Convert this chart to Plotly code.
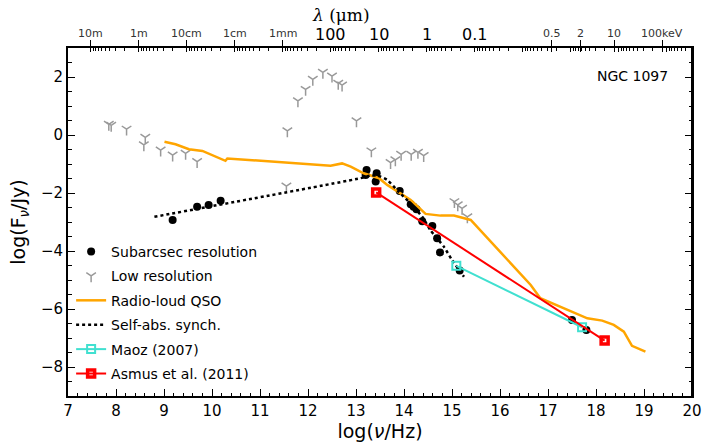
import numpy as np
import plotly.graph_objects as go

# --- Subarcsec-resolution photometry (log nu [Hz], log F_nu [Jy]) ---
sub_x = [9.18, 9.69, 9.93, 10.18, 13.22, 13.20, 13.43, 13.41, 13.91, 14.14,
         14.20, 14.26, 14.38, 14.59, 14.69, 14.75, 15.16, 17.50, 17.80]
sub_y = [-2.93, -2.47, -2.41, -2.27, -1.21, -1.38, -1.32, -1.60, -1.93, -2.39,
         -2.47, -2.56, -2.97, -3.14, -3.56, -4.05, -4.67, -6.38, -6.72]

# --- Low-resolution photometry ---
low_x = [7.85, 7.90, 8.22, 8.61, 8.58, 8.93, 9.18, 9.45, 9.69, 11.57, 11.55,
         11.79, 11.95, 12.10, 12.31, 12.50, 12.63, 12.71, 13.01, 13.32, 13.72,
         13.82, 13.94, 14.15, 14.29, 14.41, 15.05, 15.12, 15.21, 15.32]
low_y = [0.37, 0.33, 0.20, -0.08, -0.34, -0.52, -0.69, -0.63, -0.92, 0.14, -1.76,
         1.18, 1.57, 1.92, 2.16, 2.03, 1.78, 1.72, 0.49, -0.55, -0.95,
         -0.86, -0.67, -0.67, -0.60, -0.71, -2.30, -2.41, -2.53, -2.82]

# --- Radio-loud QSO template ---
qso_x = [9.01, 9.24, 9.52, 9.80, 10.28, 10.32, 12.47, 12.71, 12.89, 13.16,
         13.48, 13.65, 14.14, 14.45, 14.76, 15.04, 15.39, 15.98, 16.64, 16.84,
         17.40, 17.82, 18.13, 18.37, 18.58, 18.75, 19.03]
qso_y = [-0.23, -0.32, -0.49, -0.55, -0.89, -0.81, -1.06, -0.98, -1.09, -1.32,
         -1.49, -1.72, -2.24, -2.72, -2.78, -2.78, -2.93, -3.97, -5.17, -5.63,
         -6.03, -6.32, -6.40, -6.55, -6.78, -7.27, -7.47]

# --- Self-absorbed synchrotron model ---
syn_x = [8.80, 13.09, 13.30, 13.45, 13.65, 13.89, 14.10, 14.38, 14.55, 14.83,
         15.00, 15.25]
syn_y = [-2.82, -1.49, -1.40, -1.40, -1.55, -1.96, -2.30, -2.82, -3.28, -3.85,
         -4.31, -4.89]

# --- Literature slopes ---
maoz_x = [15.09, 17.71]
maoz_y = [-4.51, -6.63]
asmus_x = [13.42, 18.18]
asmus_y = [-1.98, -7.09]

# --- Top axis: wavelength and energy scales ---
C_LIGHT = 2.998e8          # m/s
H_KEV = 4.1357e-18         # keV s
radio_lam_m = [10, 1, 0.1, 0.01, 1e-3]
radio_labels = ["10m", "1m", "10cm", "1cm", "1mm"]
micron_lam = [100, 10, 1, 0.1]
micron_labels = ["100", "10", "1", "0.1"]
kev_vals = [0.5, 2, 10, 100]
kev_labels = ["0.5", "2", "10", "100keV"]
decade_lam_m = [10.0 ** (-k) for k in range(-1, 13)]

radio_pos = [np.log10(C_LIGHT / l) for l in radio_lam_m]
micron_pos = [np.log10(C_LIGHT / (l * 1e-6)) for l in micron_lam]
kev_pos = [np.log10(e / H_KEV) for e in kev_vals]
decade_pos = [np.log10(C_LIGHT / l) for l in decade_lam_m]
minor_pos = [p + np.log10(10.0 / k) for p in decade_pos for k in range(2, 10)]
minor_pos = [p for p in minor_pos if 7 < p < 20]
long_pos = radio_pos + kev_pos

FONT = "DejaVu Sans"
fig = go.Figure()

fig.add_trace(go.Scatter(x=sub_x, y=sub_y, mode="markers", name="Subarcsec resolution",
                         marker=dict(color="black", size=8), legendgroup="a"))
fig.add_trace(go.Scatter(x=low_x, y=low_y, mode="markers", name="Low resolution",
                         marker=dict(symbol="y-down", size=8, color="#999999",
                                     line=dict(color="#999999", width=1.5)),
                         legendgroup="b"))
fig.add_trace(go.Scatter(x=qso_x, y=qso_y, mode="lines", name="Radio-loud QSO",
                         line=dict(color="#FFA500", width=2.5), legendgroup="c"))
fig.add_trace(go.Scatter(x=syn_x, y=syn_y, mode="lines", name="Self-abs. synch.",
                         line=dict(color="black", width=2.5, dash="dot", shape="spline",
                                   smoothing=0.6),
                         legendgroup="d"))
fig.add_trace(go.Scatter(x=maoz_x, y=maoz_y, mode="lines+markers", name="Maoz (2007)",
                         line=dict(color="#40E0D0", width=2),
                         marker=dict(symbol="square-open", size=8, color="#40E0D0",
                                     line=dict(width=2)),
                         legendgroup="e"))
fig.add_trace(go.Scatter(x=asmus_x, y=asmus_y, mode="lines+markers", name="Asmus et al. (2011)",
                         line=dict(color="#FF0000", width=2),
                         marker=dict(symbol="square-open", size=7, color="#FF0000",
                                     line=dict(width=3.5)),
                         legendgroup="f"))

# invisible traces to activate the extra top axes
for ax in ("x2", "x3", "x4"):
    fig.add_trace(go.Scatter(x=[7], y=[0], xaxis=ax, mode="markers",
                             marker=dict(opacity=0), showlegend=False, hoverinfo="skip"))

axis_common = dict(range=[7, 20], showgrid=False, zeroline=False, automargin=False)

fig.update_layout(
    width=705, height=445,
    margin=dict(l=68, r=13, t=48, b=49),
    paper_bgcolor="white", plot_bgcolor="white",
    font=dict(family=FONT, color="black", size=14),
    showlegend=True,
    legend=dict(x=0.005, y=0.46, xanchor="left", yanchor="top",
                bgcolor="rgba(0,0,0,0)", font=dict(size=14, family=FONT),
                tracegroupgap=3.2, itemwidth=30),
    xaxis=dict(**axis_common, dtick=1, tick0=7, ticks="inside", ticklen=7, tickwidth=1,
               tickcolor="black", showline=True, linecolor="black", linewidth=2,
               mirror=False, tickfont=dict(size=15),
               minor=dict(dtick=0.2, ticks="inside", ticklen=3.5, tickcolor="black"),
               title=dict(text="log(<i>ν</i>/Hz)", font=dict(size=19), standoff=6)),
    xaxis2=dict(**axis_common, overlaying="x", side="top", anchor="y",
                tickmode="array", tickvals=decade_pos, ticks="inside", ticklen=4,
                tickcolor="black", showticklabels=False, showline=True,
                linecolor="black", linewidth=2,
                minor=dict(tickmode="array", tickvals=minor_pos, ticks="inside",
                           ticklen=2.5, tickcolor="black")),
    xaxis3=dict(**axis_common, overlaying="x", side="top", anchor="y",
                tickmode="array", tickvals=long_pos, ticks="outside", ticklen=7,
                tickcolor="black", showticklabels=False, showline=False),
    xaxis4=dict(**axis_common, overlaying="x", side="top", anchor="y",
                tickmode="array", tickvals=long_pos, ticks="inside", ticklen=4,
                tickcolor="black", showticklabels=False, showline=False),
    yaxis=dict(range=[-9, 3], dtick=2, tick0=0, showgrid=False, zeroline=False,
               automargin=False,
               ticks="inside", ticklen=7, tickcolor="black", showline=True,
               linecolor="black", linewidth=2, mirror="ticks", tickfont=dict(size=15),
               minor=dict(dtick=0.5, ticks="inside", ticklen=3.5, tickcolor="black"),
               title=dict(text="log(F<sub><i>ν</i></sub>/Jy)", font=dict(size=19),
                          standoff=10)),
)

# right-hand frame line
fig.add_shape(type="line", xref="paper", yref="paper", x0=1, x1=1, y0=0, y1=1,
              line=dict(color="black", width=2))

annots = []
for pos, lab in zip(radio_pos, radio_labels):
    annots.append(dict(x=pos, y=1, xref="x", yref="paper", text=lab, showarrow=False,
                       yanchor="middle", yshift=15, font=dict(size=11, color="#333333")))
for pos, lab in zip(micron_pos, micron_labels):
    annots.append(dict(x=pos, y=1, xref="x", yref="paper", text=lab, showarrow=False,
                       yanchor="middle", yshift=14, font=dict(size=16, color="black")))
for pos, lab in zip(kev_pos, kev_labels):
    annots.append(dict(x=pos, y=1, xref="x", yref="paper", text=lab, showarrow=False,
                       yanchor="middle", yshift=15, font=dict(size=11, color="#333333")))
annots.append(dict(x=0.437, y=1, xref="paper", yref="paper", text="<i>λ</i> (μm)",
                   showarrow=False, yanchor="middle", yshift=33,
                   font=dict(size=17, color="black", family="DejaVu Serif")))
annots.append(dict(x=0.965, y=0.92, xref="paper", yref="paper", text="NGC 1097",
                   showarrow=False, xanchor="right", yanchor="middle",
                   font=dict(size=14, color="black")))
fig.update_layout(annotations=annots)

fig.write_html("out.html")
